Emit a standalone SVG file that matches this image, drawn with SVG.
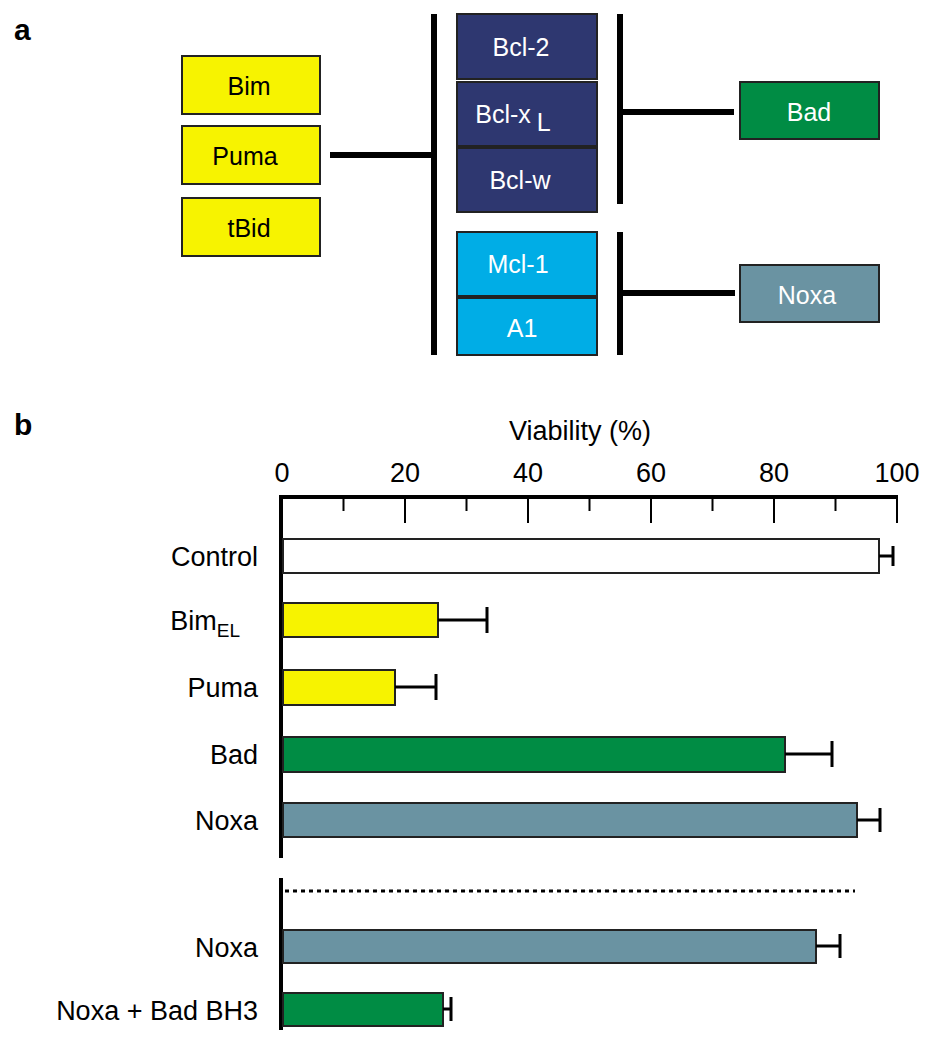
<svg xmlns="http://www.w3.org/2000/svg" width="932" height="1050" viewBox="0 0 932 1050">
<style>
text{font-family:"Liberation Sans",Arial,sans-serif}
.w{fill:#fff;font-size:25px;text-anchor:middle}
.k{fill:#000;font-size:25px;text-anchor:middle}
.lab{fill:#000;font-size:27px;text-anchor:end}
.ax{fill:#000;font-size:27px;text-anchor:middle}
.box{stroke:#222;stroke-width:2}
.bar{stroke:#222;stroke-width:2}
.ln{stroke:#000;stroke-width:6}
.eb{stroke:#000;stroke-width:3;fill:none}
</style>
<rect width="932" height="1050" fill="#fff"/>
<text x="14" y="40" style="font-size:30px;font-weight:bold">a</text>
<text x="14" y="435" style="font-size:30px;font-weight:bold">b</text>
<g id="connectors">
<line class="ln" x1="330" y1="155" x2="434" y2="155"/>
<line class="ln" x1="434" y1="14" x2="434" y2="355"/>
<line class="ln" x1="620" y1="14" x2="620" y2="204"/>
<line class="ln" x1="620" y1="232" x2="620" y2="355"/>
<line class="ln" x1="620" y1="112" x2="734" y2="112"/>
<line class="ln" x1="620" y1="293" x2="735" y2="293"/>
</g>
<g id="bim"><rect class="box" x="182" y="56" width="138" height="58" fill="#f7f300"/><text class="k" x="249" y="95">Bim</text></g>
<g id="puma"><rect class="box" x="182" y="126" width="138" height="58" fill="#f7f300"/><text class="k" x="245" y="165">Puma</text></g>
<g id="tbid"><rect class="box" x="182" y="198" width="138" height="58" fill="#f7f300"/><text class="k" x="249" y="237">tBid</text></g>
<g id="bcl2"><rect class="box" x="457" y="14" width="140" height="65" fill="#2e3770"/><text class="w" x="521" y="56">Bcl-2</text></g>
<g id="bclxl"><rect class="box" x="457" y="82" width="140" height="64" fill="#2e3770"/><text class="w" x="513" y="123">Bcl-x<tspan dx="6" dy="8">L</tspan></text></g>
<g id="bclw"><rect class="box" x="457" y="148" width="140" height="64" fill="#2e3770"/><text class="w" x="520" y="189">Bcl-w</text></g>
<g id="mcl1"><rect class="box" x="457" y="232" width="140" height="64" fill="#00ade6"/><text class="w" x="518" y="273">Mcl-1</text></g>
<g id="a1"><rect class="box" x="457" y="298" width="140" height="57" fill="#00ade6"/><text class="w" x="522" y="337">A1</text></g>
<g id="bad"><rect class="box" x="740" y="82" width="139" height="57" fill="#008c44"/><text class="w" x="809" y="121">Bad</text></g>
<g id="noxa"><rect class="box" x="740" y="265" width="139" height="57" fill="#6a93a2"/><text class="w" x="807" y="304">Noxa</text></g>
<g id="chart">
<text class="ax" x="580" y="440">Viability (%)</text>
<text class="ax" x="282" y="482">0</text>
<text class="ax" x="405" y="482">20</text>
<text class="ax" x="528" y="482">40</text>
<text class="ax" x="651" y="482">60</text>
<text class="ax" x="774" y="482">80</text>
<text class="ax" x="897" y="482">100</text>
<line x1="280" y1="497" x2="898" y2="497" stroke="#000" stroke-width="4"/>
<line x1="281" y1="495" x2="281" y2="858" stroke="#000" stroke-width="4"/>
<line x1="281" y1="878" x2="281" y2="1030" stroke="#000" stroke-width="4"/>
<g stroke="#000" stroke-width="2">
<line x1="343.5" y1="497" x2="343.5" y2="511"/><line x1="405" y1="497" x2="405" y2="523"/>
<line x1="466.5" y1="497" x2="466.5" y2="511"/><line x1="528" y1="497" x2="528" y2="523"/>
<line x1="589.5" y1="497" x2="589.5" y2="511"/><line x1="651" y1="497" x2="651" y2="523"/>
<line x1="712.5" y1="497" x2="712.5" y2="511"/><line x1="774" y1="497" x2="774" y2="523"/>
<line x1="835.5" y1="497" x2="835.5" y2="511"/><line x1="897" y1="497" x2="897" y2="523"/>
</g>
<text class="lab" x="258" y="566">Control</text>
<text class="lab" x="258" y="630" dx="-18">Bim<tspan dy="7" style="font-size:19px">EL</tspan></text>
<text class="lab" x="258" y="697">Puma</text>
<text class="lab" x="258" y="764">Bad</text>
<text class="lab" x="258" y="830">Noxa</text>
<text class="lab" x="258" y="957">Noxa</text>
<text class="lab" x="258" y="1020">Noxa + Bad BH3</text>
<rect class="bar" x="283" y="539" width="596" height="34" fill="#fff"/>
<path class="eb" d="M879 556H893M893 546V566"/>
<rect class="bar" x="283" y="603" width="155" height="34" fill="#f7f300"/>
<path class="eb" d="M438 620H487M487 607V633"/>
<rect class="bar" x="283" y="670" width="112" height="35" fill="#f7f300"/>
<path class="eb" d="M395 687H436M436 674V700"/>
<rect class="bar" x="283" y="737" width="502" height="35" fill="#008c44"/>
<path class="eb" d="M785 754H832M832 741V767"/>
<rect class="bar" x="283" y="803" width="574" height="34" fill="#6a93a2"/>
<path class="eb" d="M857 820H880M880 808V832"/>
<line x1="285" y1="891" x2="855" y2="891" stroke="#000" stroke-width="3" stroke-dasharray="4,4"/>
<rect class="bar" x="283" y="930" width="533" height="33" fill="#6a93a2"/>
<path class="eb" d="M816 946H840M840 934V958"/>
<rect class="bar" x="283" y="993" width="160" height="33" fill="#008c44"/>
<path class="eb" d="M443 1009H451M451 997V1021"/>
</g>
</svg>
